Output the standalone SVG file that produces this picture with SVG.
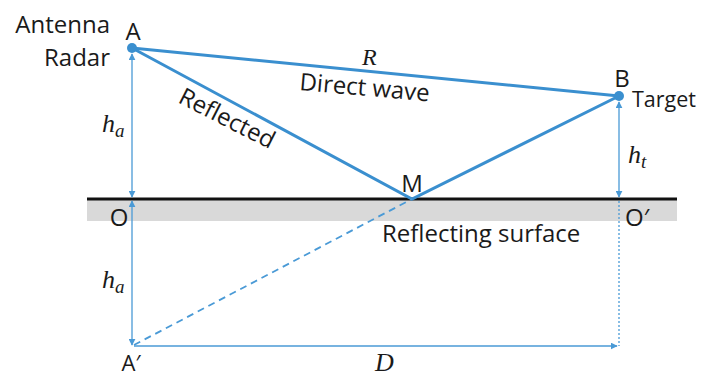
<svg xmlns="http://www.w3.org/2000/svg" width="702" height="378" viewBox="0 0 702 378">
<defs>
<marker id="arr" viewBox="0 0 10 10" refX="9" refY="5" markerWidth="7" markerHeight="7" markerUnits="userSpaceOnUse" orient="auto-start-reverse">
<path d="M0,0 L10,5 L0,10 z" fill="#4a9ad6"/>
</marker>
<style>
.lbl{font-family:"Open Sans","Liberation Sans",sans-serif;font-size:24px;fill:#1a1a1a}
.math{font-family:"Liberation Serif",serif;font-style:italic;font-size:26px;fill:#1a1a1a}
.sub{font-family:"Liberation Serif",serif;font-style:italic;font-size:19px;fill:#1a1a1a}
.wave{stroke:#3a8fcf;stroke-width:3;fill:none}
.dim{stroke:#4a9ad6;stroke-width:1.3;fill:none}
</style>
</defs>
<rect width="702" height="378" fill="#fff"/>
<g id="surface">
<rect x="87" y="200" width="590" height="21" fill="#d9d9d9"/>
<line x1="87" y1="199" x2="677" y2="199" stroke="#111" stroke-width="3"/>
<text class="lbl" x="382" y="242">Reflecting surface</text>
</g>
<g id="connectors">
<line class="wave" x1="132" y1="48" x2="619" y2="96"/>
<polyline class="wave" points="132,48 412,199 619,96"/>
<line class="dim" x1="132" y1="54" x2="132" y2="197" marker-start="url(#arr)" marker-end="url(#arr)"/>
<line class="dim" x1="132" y1="201" x2="132" y2="345" marker-start="url(#arr)" marker-end="url(#arr)"/>
<line class="dim" x1="619" y1="102" x2="619" y2="197" marker-start="url(#arr)" marker-end="url(#arr)"/>
<line class="dim" x1="619" y1="201" x2="619" y2="346" stroke-dasharray="2,2"/>
<line class="dim" x1="134" y1="346" x2="617" y2="346" marker-end="url(#arr)"/>
<line x1="134" y1="345" x2="412" y2="199" stroke="#4a9ad6" stroke-width="1.8" stroke-dasharray="7,5"/>
</g>
<g id="nodeA">
<circle cx="132" cy="48" r="5" fill="#3a8fcf"/>
<text class="lbl" x="133" y="40" text-anchor="middle">A</text>
<text class="lbl" x="110" y="33" text-anchor="end">Antenna</text>
<text class="lbl" x="110" y="66" text-anchor="end">Radar</text>
</g>
<g id="nodeB">
<circle cx="619" cy="96" r="5" fill="#3a8fcf"/>
<text class="lbl" x="622" y="87" text-anchor="middle">B</text>
<text class="lbl" x="632" y="107" style="font-size:22px" textLength="64" lengthAdjust="spacingAndGlyphs">Target</text>
</g>
<g id="nodeM">
<text class="lbl" x="412" y="192" text-anchor="middle">M</text>
</g>
<g id="nodeO">
<text class="lbl" x="119" y="226" text-anchor="middle">O</text>
</g>
<g id="nodeO2">
<text class="lbl" x="625" y="226">O′</text>
</g>
<g id="nodeA2">
<text class="lbl" x="131" y="371" text-anchor="middle" style="font-size:22px">A′</text>
</g>
<g id="labels">
<text class="math" x="362" y="65" style="font-size:24px">R</text>
<text class="lbl" x="299" y="90" transform="rotate(5 299 90)">Direct wave</text>
<text class="lbl" x="177" y="102" transform="rotate(27 177 102)">Reflected</text>
<text class="math" x="102" y="132">h<tspan class="sub" dy="5">a</tspan></text>
<text class="math" x="628" y="163">h<tspan class="sub" dy="5">t</tspan></text>
<text class="math" x="102" y="288">h<tspan class="sub" dy="5">a</tspan></text>
<text class="math" x="375" y="371">D</text>
</g>
</svg>
